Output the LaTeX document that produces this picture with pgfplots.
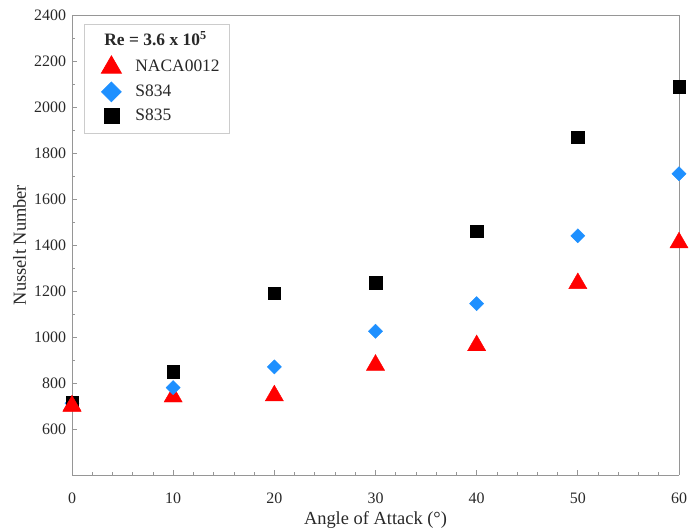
\documentclass[border=0pt]{standalone}
\usepackage{fontspec}
\setmainfont{Liberation Serif}
\usepackage{pgfplots}
\pgfplotsset{compat=1.18}

\definecolor{nacared}{RGB}{255,0,0}
\definecolor{sblue}{RGB}{30,144,255}
\definecolor{frame}{RGB}{150,150,150}
\definecolor{ink}{RGB}{40,40,40}

\begin{document}
\begin{tikzpicture}
\begin{axis}[
  name=ax,
  scale only axis,
  width=607bp, height=460bp,
  xmin=0, xmax=60, ymin=400, ymax=2400,
  xtick={0,10,...,60},
  ytick={600,800,...,2400},
  minor x tick num=4,
  minor y tick num=1,
  tick align=inside,
  xtick pos=bottom, ytick pos=left,
  major tick length=5bp, minor tick length=3bp,
  every tick/.style={frame, line width=0.7pt},
  axis line style={frame, line width=0.9pt},
  axis x line*=bottom, axis y line*=left,
  clip=false,
  /pgf/number format/assume math mode=true,
  /pgf/number format/1000 sep={},
  tick label style={font=\fontsize{16}{19}\selectfont, text=ink},
  yticklabel style={xshift=-2.5bp},
  xticklabel style={anchor=center, yshift=-23bp},
  label style={font=\fontsize{18.5}{22}\selectfont, text=ink},
  xlabel={Angle of Attack (\textdegree)},
  ylabel={Nusselt Number},
  xlabel style={at={(axis description cs:0.5,0)}, anchor=center, yshift=-45bp},
  ylabel style={at={([xshift=-52.5bp]axis description cs:0,0.5)}, anchor=center},
  legend image code/.code={%
    \path[draw=none, fill=none] (0bp,-6bp) rectangle (41bp,6bp);
    \draw[#1] plot coordinates {(20bp,0bp)};},
  legend style={at={(axis description cs:0,1)}, anchor=north west,
    xshift=12bp, yshift=-9bp,
    draw=black!20, line width=0.8pt, inner xsep=7bp, inner ysep=7bp,
    font=\fontsize{17.5}{21}\selectfont, row sep=4.5bp,
    text=ink,
    nodes={inner xsep=3bp, text height=12.5bp, text depth=3.5bp}},
  legend cell align=left,
]
% grey lines closing the top and right of the frame
\draw[frame, line width=0.9pt] (axis cs:0,2400) -- (axis cs:60,2400) -- (axis cs:60,400);

\addlegendimage{empty legend}
\addlegendentry{\hspace*{-31bp}\textbf{Re = 3.6 x 10\textsuperscript{5}}}

\addplot[only marks, mark=triangle*, mark size=10.5bp, color=nacared,
  legend image post style={mark size=11.5bp}]
  coordinates {(0,700) (10,740) (20,745) (30,878) (40,963) (50,1233) (60,1410)};
\addlegendentry{NACA0012}

\addplot[only marks, mark=square*, mark size=5bp, mark options={rotate=45}, color=sblue,
  legend image post style={mark size=7bp}]
  coordinates {(0,712) (10,780) (20,870) (30,1025) (40,1145) (50,1440) (60,1710)};
\addlegendentry{S834}

\addplot[only marks, mark=square*, mark size=6.3bp, color=black,
  legend image post style={mark size=7.5bp}]
  coordinates {(0,715) (10,850) (20,1190) (30,1235) (40,1460) (50,1868) (60,2088)};
\addlegendentry{S835}

% NACA0012 at 0 deg sits on top of the other two marks
\addplot[only marks, mark=triangle*, mark size=10.5bp, color=nacared, forget plot]
  coordinates {(0,700)};
\end{axis}
\pgfresetboundingbox
\path ([shift={(-72bp,-57bp)}]ax.south west) rectangle ([shift={(11bp,15bp)}]ax.north east);
\end{tikzpicture}
\end{document}
